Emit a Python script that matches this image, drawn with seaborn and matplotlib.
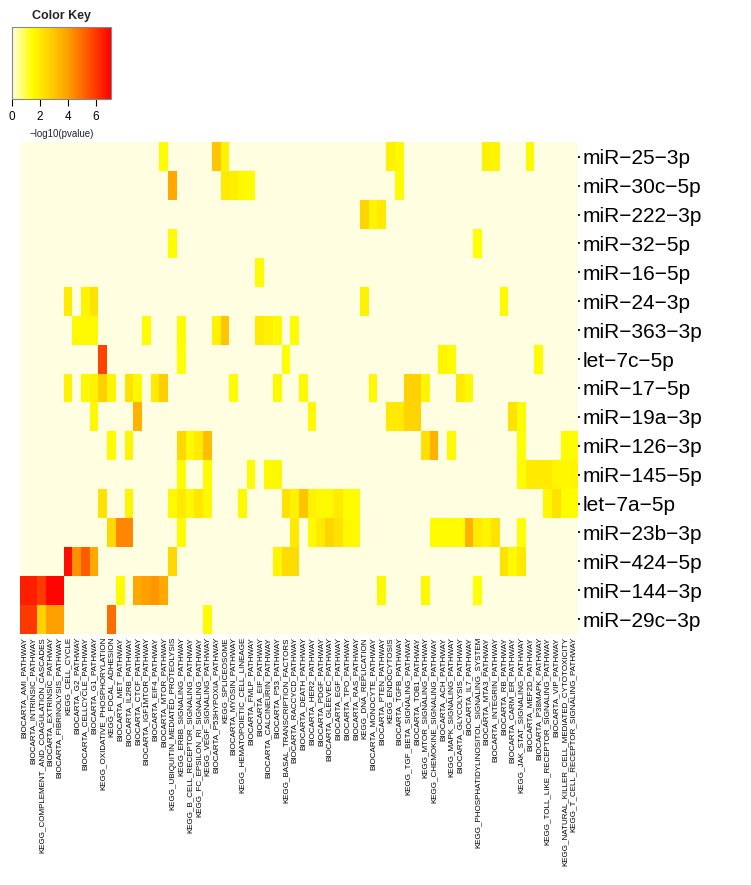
import matplotlib

matplotlib.use("Agg")
import matplotlib.pyplot as plt
import pandas as pd
import seaborn as sns
from matplotlib.colors import LinearSegmentedColormap

pathways = [
    "BIOCARTA_AMI_PATHWAY", "BIOCARTA_INTRINSIC_PATHWAY",
    "KEGG_COMPLEMENT_AND_COAGULATION_CASCADES", "BIOCARTA_EXTRINSIC_PATHWAY",
    "BIOCARTA_FIBRINOLYSIS_PATHWAY", "KEGG_CELL_CYCLE", "BIOCARTA_G2_PATHWAY",
    "BIOCARTA_CELLCYCLE_PATHWAY", "BIOCARTA_G1_PATHWAY",
    "KEGG_OXIDATIVE_PHOSPHORYLATION", "KEGG_FOCAL_ADHESION", "BIOCARTA_MET_PATHWAY",
    "BIOCARTA_IL2RB_PATHWAY", "BIOCARTA_CTCF_PATHWAY", "BIOCARTA_IGF1MTOR_PATHWAY",
    "BIOCARTA_EIF4_PATHWAY", "BIOCARTA_MTOR_PATHWAY",
    "KEGG_UBIQUITIN_MEDIATED_PROTEOLYSIS", "KEGG_ERBB_SIGNALING_PATHWAY",
    "KEGG_B_CELL_RECEPTOR_SIGNALING_PATHWAY", "KEGG_FC_EPSILON_RI_SIGNALING_PATHWAY",
    "KEGG_VEGF_SIGNALING_PATHWAY", "BIOCARTA_P53HYPOXIA_PATHWAY", "KEGG_SPLICEOSOME",
    "BIOCARTA_MYOSIN_PATHWAY", "KEGG_HEMATOPOIETIC_CELL_LINEAGE",
    "BIOCARTA_FMLP_PATHWAY", "BIOCARTA_EIF_PATHWAY", "BIOCARTA_CALCINEURIN_PATHWAY",
    "BIOCARTA_P53_PATHWAY", "KEGG_BASAL_TRANSCRIPTION_FACTORS",
    "BIOCARTA_RACCYCD_PATHWAY", "BIOCARTA_DEATH_PATHWAY", "BIOCARTA_HER2_PATHWAY",
    "BIOCARTA_PDGF_PATHWAY", "BIOCARTA_GLEEVEC_PATHWAY", "BIOCARTA_EGF_PATHWAY",
    "BIOCARTA_TPO_PATHWAY", "BIOCARTA_RAS_PATHWAY", "KEGG_DNA_REPLICATION",
    "BIOCARTA_MONOCYTE_PATHWAY", "BIOCARTA_PTEN_PATHWAY", "KEGG_ENDOCYTOSIS",
    "BIOCARTA_TGFB_PATHWAY", "KEGG_TGF_BETA_SIGNALING_PATHWAY", "BIOCARTA_TOB1_PATHWAY",
    "KEGG_MTOR_SIGNALING_PATHWAY", "KEGG_CHEMOKINE_SIGNALING_PATHWAY",
    "BIOCARTA_ACH_PATHWAY", "KEGG_MAPK_SIGNALING_PATHWAY", "BIOCARTA_GLYCOLYSIS_PATHWAY",
    "BIOCARTA_IL7_PATHWAY", "KEGG_PHOSPHATIDYLINOSITOL_SIGNALING_SYSTEM",
    "BIOCARTA_MTA3_PATHWAY", "BIOCARTA_INTEGRIN_PATHWAY", "BIOCARTA_RB_PATHWAY",
    "BIOCARTA_CARM_ER_PATHWAY", "KEGG_JAK_STAT_SIGNALING_PATHWAY",
    "BIOCARTA_MEF2D_PATHWAY", "BIOCARTA_P38MAPK_PATHWAY",
    "KEGG_TOLL_LIKE_RECEPTOR_SIGNALING_PATHWAY", "BIOCARTA_VIP_PATHWAY",
    "KEGG_NATURAL_KILLER_CELL_MEDIATED_CYTOTOXICITY",
    "KEGG_T_CELL_RECEPTOR_SIGNALING_PATHWAY",
]

mirnas = [
    "miR-25-3p", "miR-30c-5p", "miR-222-3p", "miR-32-5p", "miR-16-5p", "miR-24-3p",
    "miR-363-3p", "let-7c-5p", "miR-17-5p", "miR-19a-3p", "miR-126-3p", "miR-145-5p",
    "let-7a-5p", "miR-23b-3p", "miR-424-5p", "miR-144-3p", "miR-29c-3p",
]

# -log10(pvalue) per pathway, 16 pathways per line
mir_25_3p = [
    0, 0, 0, 0, 0, 0, 0, 0, 0, 0, 0, 0, 0, 0, 0, 0,
    1.5, 0, 0, 0, 0, 0, 3.0, 1.8, 0, 0, 0, 0, 0, 0, 0, 0,
    0, 0, 0, 0, 0, 0, 0, 0, 0, 0, 1.8, 1.6, 0, 0, 0, 0,
    0, 0, 0, 0, 0, 1.8, 1.7, 0, 0, 0, 1.6, 0, 0, 0, 0, 0,
]
mir_30c_5p = [
    0, 0, 0, 0, 0, 0, 0, 0, 0, 0, 0, 0, 0, 0, 0, 0,
    0, 3.8, 0, 0, 0, 0, 0, 2.0, 1.9, 1.6, 1.5, 0, 0, 0, 0, 0,
    0, 0, 0, 0, 0, 0, 0, 0, 0, 0, 0, 1.5, 0, 0, 0, 0,
    0, 0, 0, 0, 0, 0, 0, 0, 0, 0, 0, 0, 0, 0, 0, 0,
]
mir_222_3p = [
    0, 0, 0, 0, 0, 0, 0, 0, 0, 0, 0, 0, 0, 0, 0, 0,
    0, 0, 0, 0, 0, 0, 0, 0, 0, 0, 0, 0, 0, 0, 0, 0,
    0, 0, 0, 0, 0, 0, 0, 2.6, 1.7, 2.0, 0, 0, 0, 0, 0, 0,
    0, 0, 0, 0, 0, 0, 0, 0, 0, 0, 0, 0, 0, 0, 0, 0,
]
mir_32_5p = [
    0, 0, 0, 0, 0, 0, 0, 0, 0, 0, 0, 0, 0, 0, 0, 0,
    0, 1.5, 0, 0, 0, 0, 0, 0, 0, 0, 0, 0, 0, 0, 0, 0,
    0, 0, 0, 0, 0, 0, 0, 0, 0, 0, 0, 0, 0, 0, 0, 0,
    0, 0, 0, 0, 1.4, 0, 0, 0, 0, 0, 0, 0, 0, 0, 0, 0,
]
mir_16_5p = [
    0, 0, 0, 0, 0, 0, 0, 0, 0, 0, 0, 0, 0, 0, 0, 0,
    0, 0, 0, 0, 0, 0, 0, 0, 0, 0, 0, 1.5, 0, 0, 0, 0,
    0, 0, 0, 0, 0, 0, 0, 0, 0, 0, 0, 0, 0, 0, 0, 0,
    0, 0, 0, 0, 0, 0, 0, 0, 0, 0, 0, 0, 0, 0, 0, 0,
]
mir_24_3p = [
    0, 0, 0, 0, 0, 2.0, 0, 1.7, 2.2, 0, 0, 0, 0, 0, 0, 0,
    0, 0, 0, 0, 0, 0, 0, 0, 0, 0, 0, 0, 0, 0, 0, 0,
    0, 0, 0, 0, 0, 0, 0, 1.8, 0, 0, 0, 0, 0, 0, 0, 0,
    0, 0, 0, 0, 0, 0, 0, 1.6, 0, 0, 0, 0, 0, 0, 0, 0,
]
mir_363_3p = [
    0, 0, 0, 0, 0, 0, 1.6, 1.6, 1.6, 0, 0, 0, 0, 0, 1.5, 0,
    0, 0, 1.5, 0, 0, 0, 1.8, 3.0, 0, 0, 0, 2.0, 1.8, 1.6, 0, 1.5,
    0, 0, 0, 0, 0, 0, 0, 0, 0, 0, 0, 0, 0, 0, 0, 0,
    0, 0, 0, 0, 0, 0, 0, 0, 0, 0, 0, 0, 0, 0, 0, 0,
]
let_7c_5p = [
    0, 0, 0, 0, 0, 0, 0, 0, 0, 5.8, 0, 0, 0, 0, 0, 0,
    0, 0, 1.4, 0, 0, 0, 0, 0, 0, 0, 0, 0, 0, 0, 1.4, 0,
    0, 0, 0, 0, 0, 0, 0, 0, 0, 0, 0, 0, 0, 0, 0, 0,
    1.7, 1.5, 0, 0, 0, 0, 0, 0, 0, 0, 0, 1.5, 0, 0, 0, 0,
]
mir_17_5p = [
    0, 0, 0, 0, 0, 1.8, 0, 1.6, 1.8, 2.7, 1.7, 0, 2.2, 1.6, 0, 2.0,
    2.8, 0, 0, 0, 0, 0, 0, 0, 1.5, 0, 0, 0, 0, 1.6, 0, 0,
    1.6, 0, 0, 0, 0, 0, 0, 0, 1.6, 0, 0, 0, 2.7, 2.7, 1.7, 0,
    0, 0, 2.0, 1.6, 0, 0, 0, 0, 0, 0, 0, 0, 0, 0, 0, 0,
]
mir_19a_3p = [
    0, 0, 0, 0, 0, 0, 0, 0, 1.6, 0, 0, 0, 0, 3.5, 0, 0,
    0, 0, 0, 0, 0, 0, 0, 0, 0, 0, 0, 0, 0, 0, 0, 0,
    0, 1.6, 0, 0, 0, 0, 0, 0, 0, 0, 2.0, 2.0, 2.6, 2.6, 0, 0,
    0, 0, 0, 0, 0, 0, 0, 0, 2.2, 1.5, 0, 0, 0, 0, 0, 0,
]
mir_126_3p = [
    0, 0, 0, 0, 0, 0, 0, 0, 0, 0, 1.5, 0, 1.7, 0, 0, 0,
    0, 0, 2.5, 1.6, 2.0, 3.2, 0, 0, 0, 0, 0, 0, 0, 0, 0, 0,
    0, 0, 0, 0, 0, 0, 0, 0, 0, 0, 0, 0, 0, 0, 2.3, 3.5,
    0, 1.6, 0, 0, 0, 0, 0, 0, 0, 1.4, 0, 0, 0, 0, 1.5, 1.5,
]
mir_145_5p = [
    0, 0, 0, 0, 0, 0, 0, 0, 0, 0, 0, 0, 0, 0, 0, 0,
    0, 0, 1.5, 0, 0, 1.5, 0, 0, 0, 0, 1.5, 0, 1.6, 1.6, 0, 0,
    0, 0, 0, 0, 0, 0, 0, 0, 0, 0, 0, 0, 0, 0, 0, 0,
    0, 0, 0, 0, 0, 0, 0, 0, 0, 1.5, 2.0, 2.0, 2.0, 1.7, 1.6, 1.7,
]
let_7a_5p = [
    0, 0, 0, 0, 0, 0, 0, 0, 0, 2.2, 0, 0, 1.7, 0, 0, 0,
    0, 1.6, 2.0, 1.6, 2.1, 1.6, 0, 0, 0, 1.6, 0, 0, 0, 0, 2.2, 1.8,
    3.0, 1.8, 1.6, 1.6, 2.0, 1.5, 1.5, 0, 0, 0, 0, 0, 0, 0, 0, 0,
    0, 0, 0, 0, 0, 0, 0, 0, 0, 0, 0, 0, 1.6, 2.2, 1.5, 1.5,
]
mir_23b_3p = [
    0, 0, 0, 0, 0, 0, 0, 0, 0, 0, 2.5, 4.5, 4.5, 0, 0, 0,
    0, 0, 1.5, 0, 0, 0, 0, 0, 0, 0, 0, 0, 0, 0, 0, 2.0,
    0, 1.6, 2.0, 2.6, 2.2, 1.6, 1.6, 0, 0, 0, 0, 0, 0, 0, 0, 1.5,
    1.5, 1.5, 1.5, 3.5, 2.0, 1.7, 2.2, 0, 0, 1.4, 0, 0, 0, 0, 0, 0,
]
mir_424_5p = [
    0, 0, 0, 0, 0, 6.8, 4.3, 5.3, 3.8, 0, 0, 0, 0, 0, 0, 0,
    0, 2.5, 0, 0, 0, 0, 0, 0, 0, 0, 0, 0, 0, 1.7, 2.4, 2.4,
    0, 0, 0, 0, 0, 0, 0, 0, 0, 0, 0, 0, 0, 0, 0, 0,
    0, 0, 0, 0, 0, 0, 0, 2.2, 1.6, 2.0, 0, 0, 0, 0, 0, 0,
]
mir_144_3p = [
    6.5, 6.5, 6.0, 7.0, 7.0, 0, 0, 0, 0, 0, 0, 1.5, 0, 3.8, 4.0, 4.2,
    3.8, 0, 0, 0, 0, 0, 0, 0, 0, 0, 0, 0, 0, 0, 0, 0,
    0, 0, 0, 0, 0, 0, 0, 0, 0, 1.6, 0, 0, 0, 0, 1.6, 0,
    0, 0, 0, 0, 1.4, 0, 0, 0, 0, 0, 0, 0, 0, 0, 0, 0,
]
mir_29c_3p = [
    6.0, 6.0, 2.7, 4.0, 4.0, 0, 0, 0, 0, 0, 5.0, 0, 0, 0, 0, 0,
    0, 0, 0, 0, 0, 1.5, 0, 0, 0, 0, 0, 0, 0, 0, 0, 0,
    0, 0, 0, 0, 0, 0, 0, 0, 0, 0, 0, 0, 0, 0, 0, 0,
    0, 0, 0, 0, 0, 0, 0, 0, 0, 0, 0, 0, 0, 0, 0, 0,
]

key_ticks = [0, 2, 4, 6]

sns.set_theme(style="white")
plt.rcParams["font.family"] = ["Liberation Sans", "DejaVu Sans"]

rows = [
    mir_25_3p, mir_30c_5p, mir_222_3p, mir_32_5p, mir_16_5p, mir_24_3p,
    mir_363_3p, let_7c_5p, mir_17_5p, mir_19a_3p, mir_126_3p, mir_145_5p,
    let_7a_5p, mir_23b_3p, mir_424_5p, mir_144_3p, mir_29c_3p,
]
df = pd.DataFrame(rows, index=mirnas, columns=pathways)

cmap = LinearSegmentedColormap.from_list(
    "key", [(0, "#fffee0"), (0.2, "#ffff00"), (0.55, "#ffa500"), (1, "#ff0000")]
)

W, H = 751, 885
fig = plt.figure(figsize=(W / 100, H / 100), dpi=100)
ax = fig.add_axes([20 / W, 1 - 633.6 / H, 558 / W, 491.3 / H])
cax = fig.add_axes([12 / W, 1 - 99 / H, 99 / W, 72 / H])

sns.heatmap(
    df, ax=ax, cmap=cmap, vmin=0, vmax=7.1,
    xticklabels=True, yticklabels=True,
    cbar_ax=cax, cbar_kws={"orientation": "horizontal", "ticks": key_ticks},
)

ax.yaxis.tick_right()
ax.set_yticklabels([m.replace("-", "\u2212") for m in mirnas], rotation=0, fontsize=15)
ax.set_xticklabels(pathways, rotation=90, fontsize=5.75)
ax.tick_params(axis="y", length=1.5, pad=2, colors="black")
ax.tick_params(axis="x", length=1.5, pad=1, colors="black")
ax.set_xlabel("")
ax.set_ylabel("")

cbar = ax.collections[0].colorbar
cbar.outline.set_edgecolor("#888888")
cbar.outline.set_linewidth(0.8)
cax.tick_params(axis="x", length=5, width=0.8, labelsize=8.5, pad=4, colors="black",
                bottom=True)
cax.set_title("Color Key", fontsize=9, fontweight="bold", pad=6)
cax.set_xlabel("\u2212log10(pvalue)", fontsize=7, labelpad=4)

fig.savefig("out.png", dpi=100)
